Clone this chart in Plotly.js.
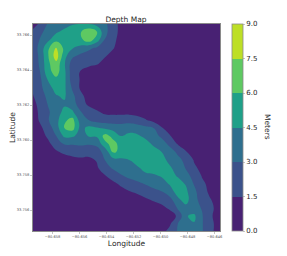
<!DOCTYPE html>
<html><head><meta charset="utf-8">
<script src="https://cdn.plot.ly/plotly-3.0.1.min.js"></script>
<style>html,body{margin:0;padding:0;background:#fff}</style></head>
<body><div id="chart" style="width:287px;height:256px"></div>
<script>
const r01=[.9,1.7,3.2,3.6,3.9,4.4,4.5,4.5,4.0,3.3,2.2,1.0,.5,.3,.2,.2,.2,.2,.2,.2,.2,.2,.2,.2,.2];
const r02=[1.7,2.7,3.5,4.3,4.9,5.2,5.9,7.2,6.1,3.4,2.2,1.0,.5,.3,.2,.2,.2,.2,.2,.2,.2,.2,.2,.2,.2];
const r03=[1.8,3.1,4.2,5.6,5.3,5.1,5.6,6.8,5.2,2.9,1.9,.9,.5,.3,.2,.2,.2,.2,.2,.2,.2,.2,.2,.2,.2];
const r04=[1.9,3.5,5.7,7.7,5.6,4.6,4.0,3.3,2.8,2.1,1.6,.9,.5,.3,.2,.2,.2,.2,.2,.2,.2,.2,.2,.2,.2];
const r05=[2.0,3.3,5.9,8.3,5.0,3.3,2.6,2.3,2.0,1.6,1.1,.7,.4,.3,.2,.2,.2,.2,.2,.2,.2,.2,.2,.2,.2];
const r06=[2.0,3.2,5.7,7.0,4.7,2.2,2.1,1.8,1.6,1.1,.6,.4,.3,.2,.2,.2,.2,.2,.2,.2,.2,.2,.2,.2,.2];
const r07=[1.9,3.0,5.5,6.6,4.9,2.1,1.4,.9,.6,.4,.3,.2,.2,.2,.2,.2,.2,.2,.2,.2,.2,.2,.2,.2,.2];
const r08=[1.8,2.7,4.6,5.6,4.9,2.2,1.4,.8,.4,.3,.2,.2,.2,.2,.2,.2,.2,.2,.2,.2,.2,.2,.2,.2,.2];
const r09=[1.6,2.6,3.9,5.1,4.8,2.8,1.3,.7,.4,.3,.2,.2,.2,.2,.2,.2,.2,.2,.2,.2,.2,.2,.2,.2,.2];
const r10=[1.3,2.3,3.4,4.4,4.7,3.4,1.9,.9,.5,.3,.2,.2,.2,.2,.2,.2,.2,.2,.2,.2,.2,.2,.2,.2,.2];
const r11=[.9,2.0,3.1,3.8,4.3,3.7,2.2,1.2,.8,.5,.4,.3,.3,.2,.2,.2,.2,.2,.2,.2,.2,.2,.2,.2,.2];
const r12=[.7,1.8,2.8,3.8,4.9,4.7,3.1,2.3,1.7,1.2,1.1,1.1,1.1,1.0,.8,.5,.4,.3,.2,.2,.2,.2,.2,.2,.2];
const r13=[.6,1.7,2.9,4.0,5.7,6.5,3.7,3.0,2.4,2.2,2.2,2.2,2.3,2.0,1.6,1.0,.6,.3,.2,.2,.2,.2,.2,.2,.2];
const r14=[.3,1.2,2.2,3.8,6.0,6.6,4.0,4.9,4.6,4.3,3.9,3.8,4.0,3.8,3.4,3.0,1.6,.9,.4,.2,.2,.2,.2,.2,.2];
const r15=[.2,.8,1.8,3.0,4.8,4.7,4.0,4.6,4.7,6.5,5.6,4.5,4.8,4.7,4.2,3.6,2.7,1.6,.9,.4,.2,.2,.2,.2,.2];
const r16=[.1,.4,1.1,2.3,3.1,3.1,3.2,3.1,3.2,5.6,6.5,5.5,5.4,5.2,5.0,4.3,3.8,2.6,1.4,.8,.3,.2,.2,.2,.2];
const r17=[.1,.2,.6,1.3,1.8,2.0,2.2,2.0,2.6,3.3,6.2,5.7,5.4,5.3,5.3,5.0,4.5,3.7,2.7,1.6,.8,.3,.2,.2,.2];
const r18=[.1,.1,.3,.6,.8,1.1,1.2,1.2,1.6,3.0,4.0,4.2,4.5,5.1,5.4,5.4,5.0,4.1,3.4,2.6,1.4,.8,.4,.2,.2];
const r19=[.1,.1,.1,.2,.3,.4,.5,.7,1.3,2.3,3.2,3.9,4.1,4.3,4.9,5.1,5.0,4.7,3.9,2.9,1.7,1.2,.6,.3,.2];
const r20=[.1,.1,.1,.1,.2,.2,.3,.4,.9,1.4,2.0,2.8,3.4,3.8,4.2,4.3,4.6,4.9,4.4,3.4,2.6,1.4,.8,.3,.2];
const r21=[.1,.1,.1,.1,.1,.2,.2,.3,.5,.8,1.2,1.7,2.2,2.6,3.1,3.6,4.0,4.6,5.0,4.4,2.9,1.8,1.1,.5,.2];
const r22=[.1,.1,.1,.1,.1,.1,.1,.2,.3,.5,.8,1.1,1.4,1.7,2.0,2.5,2.9,3.9,5.0,4.8,3.4,2.1,1.2,.6,.2];
const r23=[.1,.1,.1,.1,.1,.1,.1,.1,.2,.3,.4,.5,.7,.9,1.3,1.6,1.9,2.4,4.2,5.0,3.5,2.4,1.6,.9,.3];
const r24=[.1,.1,.1,.1,.1,.1,.1,.1,.1,.1,.2,.2,.3,.5,.7,1.0,1.2,1.7,3.2,4.1,3.5,2.9,1.8,1.1,.4];
const r25=[.1,.1,.1,.1,.1,.1,.1,.1,.1,.1,.1,.1,.2,.2,.3,.5,.7,.9,1.7,4.4,4.8,3.1,1.7,1.0,.4];
const r26=[.1,.1,.1,.1,.1,.1,.1,.1,.1,.1,.1,.1,.1,.1,.2,.4,.7,1.3,3.0,3.9,4.4,3.1,1.9,1.0,.4];
const r27=[.1,.1,.1,.1,.1,.1,.1,.1,.1,.1,.1,.1,.1,.1,.2,.5,1.1,2.0,3.1,3.5,3.6,3.1,1.9,.9,.4];
const depthRowsTopDown=[r01,r02,r03,r04,r05,r06,r07,r08,r09,r10,r11,r12,r13,r14,r15,r16,r17,r18,r19,r20,r21,r22,r23,r24,r25,r26,r27];
const bandColors=['#482173','#3b528b','#2e6f8e','#1fa088','#5ec962','#bddf26'];
const colorStops=[[0,bandColors[0]],[1/6,bandColors[0]],[1/6,bandColors[1]],[2/6,bandColors[1]],[2/6,bandColors[2]],[3/6,bandColors[2]],[3/6,bandColors[3]],[4/6,bandColors[3]],[4/6,bandColors[4]],[5/6,bandColors[4]],[5/6,bandColors[5]],[1,bandColors[5]]];
const font='"DejaVu Sans", sans-serif', ink='#262626', faint='#555555', frame='#8a8a8a';
const trace={type:'contour',x0:-80.65952,dx:0.0006,y0:33.754748,dy:0.000457,
 z:depthRowsTopDown.slice().reverse(),zmin:0,zmax:9,
 autocontour:false,contours:{start:1.5,end:7.5,size:1.5,coloring:'fill',showlines:false},
 line:{width:0,smoothing:1.3},colorscale:colorStops,hoverinfo:'skip',
 colorbar:{x:1.0615,xanchor:'left',y:0.5,yanchor:'middle',len:1,thickness:11,thicknessmode:'pixels',xpad:0,ypad:0,
  tick0:0,dtick:1.5,tickformat:'.1f',ticks:'outside',ticklen:2,tickwidth:0.5,tickcolor:frame,
  tickfont:{family:font,size:7,color:ink},outlinecolor:frame,outlinewidth:0.8,borderwidth:0}};
const axis={showgrid:false,zeroline:false,showline:true,mirror:true,linecolor:frame,linewidth:1,ticks:'outside',ticklen:2,tickwidth:0.5,tickcolor:frame,tickfont:{family:font,size:3.6,color:faint},dtick:0.002,tickformat:'.3f'};
const layout={width:287,height:256,margin:{l:33,r:67,t:24,b:25,pad:0},paper_bgcolor:'#fff',plot_bgcolor:'#fff',showlegend:false,
 title:{text:'Depth Map',x:126/287,xanchor:'center',y:1-19/256,yanchor:'middle',font:{family:font,size:7.5,color:ink}},
 xaxis:Object.assign({},axis,{range:[-80.65944,-80.6456],tick0:-80.658,title:{text:'Longitude',standoff:2,font:{family:font,size:7.5,color:ink}}}),
 yaxis:Object.assign({},axis,{range:[33.7548,33.76663],tick0:33.756,title:{text:'Latitude',standoff:0,font:{family:font,size:7.5,color:ink}}}),
 annotations:[{text:'Meters',xref:'paper',yref:'paper',x:(268-33)/187,y:(231-127)/207,xanchor:'center',yanchor:'middle',textangle:90,showarrow:false,font:{family:font,size:7.5,color:ink}}]};
Plotly.newPlot('chart',[trace],layout,{displayModeBar:false,staticPlot:true});
</script></body></html>
